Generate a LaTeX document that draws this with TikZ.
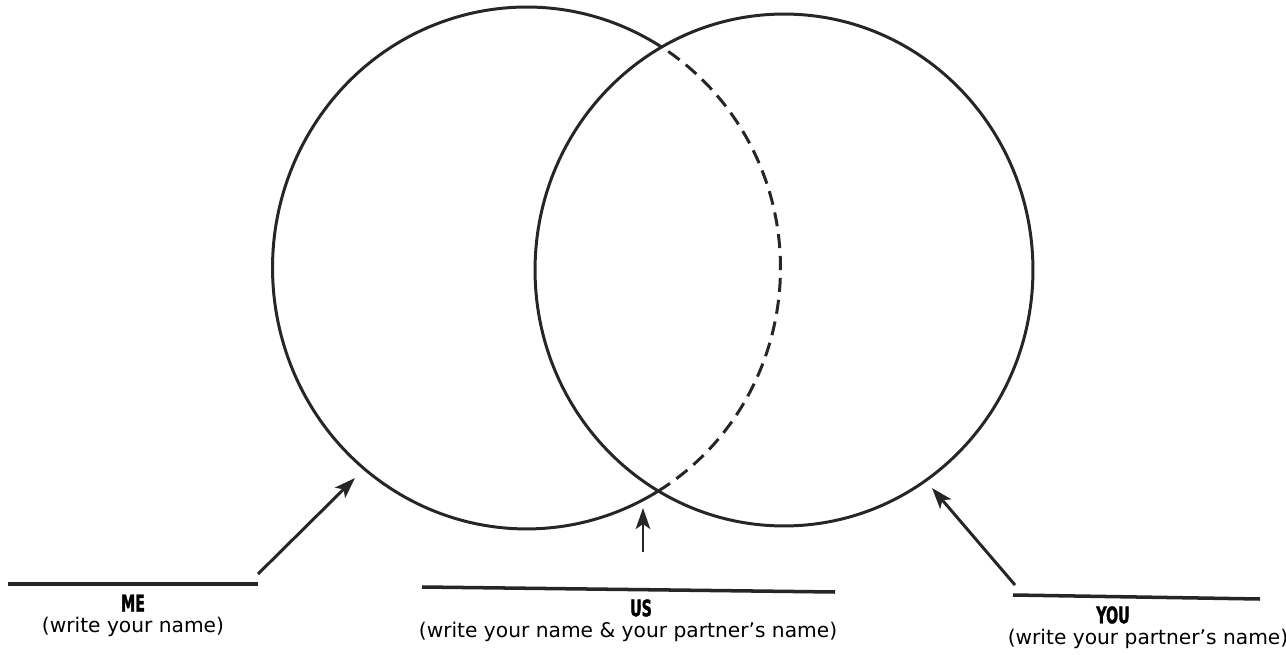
\documentclass[tikz,border=0pt]{standalone}
\usepackage{fontspec}
\setmainfont{DejaVu Sans}
\newfontfamily\headfont{DejaVu Sans}[FakeStretch=0.62, BoldFeatures={FakeBold=1.5}]
\usetikzlibrary{arrows.meta,positioning}

\tikzset{
  ring/.style={line width=1.7pt, black!85},
  ringhidden/.style={ring, dash pattern=on 8pt off 4.5pt},
  nameline/.style={line width=2pt, black!85},
  pointer/.style={-{Stealth[length=4.2mm, width=2.9mm, inset=1mm]}, line width=1.7pt, black!85},
  who/.style={font=\headfont\bfseries\fontsize{13}{15}\selectfont, inner sep=0pt},
  hint/.style={font=\fontsize{11.5}{14}\selectfont, inner sep=0pt}
}

\begin{document}
\begin{tikzpicture}[x=0.02cm, y=0.02cm]
  \useasboundingbox (0,0) rectangle (1286,654);
  \coordinate (mecenter) at (526.5,386);
  \coordinate (youcenter) at (784,384);

  % the two circles, the hidden part of ME dashed
  \draw[ring] (mecenter) ++(57.9:5.08cm and 5.22cm)
    arc[start angle=57.9, end angle=301.25, x radius=5.08cm, y radius=5.22cm];
  \draw[ringhidden] (mecenter) ++(-58.75:5.08cm and 5.22cm)
    arc[start angle=-58.75, end angle=57.9, x radius=5.08cm, y radius=5.22cm];
  \draw[ring] (youcenter) ellipse[x radius=4.98cm, y radius=5.12cm];

  % lines to write on
  \coordinate (meline1) at (8,70);
  \coordinate (meline2) at (258,70);
  \coordinate (usline1) at (422,67);
  \coordinate (usline2) at (835,62);
  \coordinate (youline1) at (1013,59);
  \coordinate (youline2) at (1260,55);
  \draw[nameline] (meline1) -- (meline2);
  \draw[nameline] (usline1) -- (usline2);
  \draw[nameline] (youline1) -- (youline2);

  % labels
  \node[who] (me) at (133,51) {ME};
  \node[hint, below=1mm of me] (mehint) {(write your name)};
  \node[who] (us) at (641,46) {US};
  \node[hint, below=1mm of us, xshift=-13*0.02cm] (ushint) {(write your name \& your partner's name)};
  \node[who] (you) at (1113,39) {YOU};
  \node[hint, below=1mm of you, xshift=35*0.02cm] (youhint) {(write your partner's name)};

  % pointers
  \coordinate (metail) at (258,80);
  \coordinate (mehead) at (355,176);
  \coordinate (ustail) at (643,102);
  \coordinate (ushead) at (643,146);
  \coordinate (youtail) at (1015,69);
  \coordinate (youhead) at (932,166);
  \draw[pointer] (metail) -- (mehead);
  \draw[pointer] (ustail) -- (ushead);
  \draw[pointer] (youtail) -- (youhead);
\end{tikzpicture}
\end{document}
